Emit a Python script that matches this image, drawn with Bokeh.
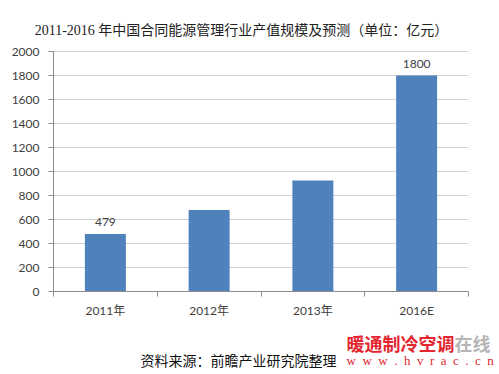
from bokeh.plotting import figure
from bokeh.models import ColumnDataSource, FixedTicker, Label, Range1d
from bokeh.core.properties import value
from bokeh.embed import file_html
from bokeh.resources import INLINE

categories = ["2011年", "2012年", "2013年", "2016E"]
values = [479, 680, 925, 1800]
value_labels = ["479", "", "", "1800"]
y_ticks = [0, 200, 400, 600, 800, 1000, 1200, 1400, 1600, 1800, 2000]
title_text = "2011-2016 年中国合同能源管理行业产值规模及预测（单位：亿元）"
source_text = "资料来源：前瞻产业研究院整理"

# layout (pixels): plot area spans x 53..468, y 51..291 of the 499x374 canvas
W, H = 499, 374
L, R, T, B = 53, 468, 51, 291
n = len(categories)
ymax = y_ticks[-1]
xu = (R - L) / n            # px per category
yu = (B - T) / ymax         # px per value unit

xs = [i + 0.5 for i in range(n)]
src = ColumnDataSource(dict(x=xs, top=values, lab=value_labels))
grid_src = ColumnDataSource(dict(y=y_ticks[1:], x0=[0] * (len(y_ticks) - 1), x1=[n] * (len(y_ticks) - 1)))

p = figure(width=W, height=H, output_backend="svg", toolbar_location=None,
           x_range=Range1d(-L / xu, n + (W - R) / xu),
           y_range=Range1d(-(H - B) / yu, ymax + T / yu),
           min_border=0, min_border_left=0, min_border_right=0,
           min_border_top=0, min_border_bottom=0)
p.outline_line_color = None
p.background_fill_color = "white"
p.xgrid.grid_line_color = None
p.ygrid.grid_line_color = None

# horizontal gridlines over the plot area
p.segment(x0="x0", x1="x1", y0="y", y1="y", source=grid_src, line_color="#d0d0d0", line_width=1)

p.vbar(x="x", top="top", width=0.395, source=src, fill_color="#4f81bd", line_color=None)
p.text(x="x", y="top", text="lab", source=src, y_offset=-8,
       text_align="center", text_baseline="bottom", text_font=value("Lato"),
       text_font_size="12px", text_color="#404040")

# axes placed at the plot-area edges
p.xaxis.fixed_location = 0
p.xaxis.bounds = (0, n)
p.xaxis.ticker = FixedTicker(ticks=xs, minor_ticks=list(range(n + 1)))
p.xaxis.major_label_overrides = {x: c for x, c in zip(xs, categories)}
p.xaxis.major_tick_out = 0
p.xaxis.major_tick_in = 0
p.xaxis.minor_tick_out = 5
p.xaxis.minor_tick_in = 0
p.xaxis.minor_tick_line_color = "#8c8c8c"
p.xaxis.axis_line_color = "#8c8c8c"
p.xaxis.major_label_text_font = "Lato, 'Noto Sans CJK SC'"
p.xaxis.major_label_text_font_size = "12px"
p.xaxis.major_label_text_color = "#404040"
p.xaxis.major_label_standoff = 6

p.yaxis.fixed_location = 0
p.yaxis.bounds = (0, ymax)
p.yaxis.ticker = FixedTicker(ticks=y_ticks)
p.yaxis.minor_tick_line_color = None
p.yaxis.major_tick_out = 5
p.yaxis.major_tick_in = 0
p.yaxis.major_tick_line_color = "#8c8c8c"
p.yaxis.axis_line_color = "#8c8c8c"
p.yaxis.major_label_text_font = "Lato"
p.yaxis.major_label_text_font_size = "12px"
p.yaxis.major_label_text_color = "#404040"
p.yaxis.major_label_standoff = 9

# title and footer texts (screen px from the canvas bottom-left)
p.add_layout(Label(x=241, y=H - 30, x_units="screen", y_units="screen", text=title_text,
                   text_align="center", text_baseline="middle",
                   text_font="'Liberation Serif', 'Noto Sans CJK SC'", text_font_size="14px",
                   text_color="#222222"))
p.add_layout(Label(x=238, y=H - 359, x_units="screen", y_units="screen", text=source_text,
                   text_align="center", text_baseline="middle",
                   text_font="'Noto Sans CJK SC'", text_font_size="14px", text_color="#111111"))
p.add_layout(Label(x=346, y=H - 342, x_units="screen", y_units="screen", text="暖通制冷空调",
                   text_align="left", text_baseline="middle",
                   text_font="'Noto Sans CJK SC'", text_font_size="18px", text_font_style="bold",
                   text_color="#e3262f"))
p.add_layout(Label(x=454, y=H - 342, x_units="screen", y_units="screen", text="在线",
                   text_align="left", text_baseline="middle",
                   text_font="'Noto Sans CJK SC'", text_font_size="18px", text_font_style="bold",
                   text_color="#b5b5b5"))
p.add_layout(Label(x=346, y=H - 360, x_units="screen", y_units="screen",
                   text="\u2002".join("www.hvrac.cn"),
                   text_align="left", text_baseline="middle",
                   text_font="'Liberation Serif'", text_font_size="13px",
                   text_color="#e3262f"))

open("out.html", "w").write(file_html(p, INLINE))
